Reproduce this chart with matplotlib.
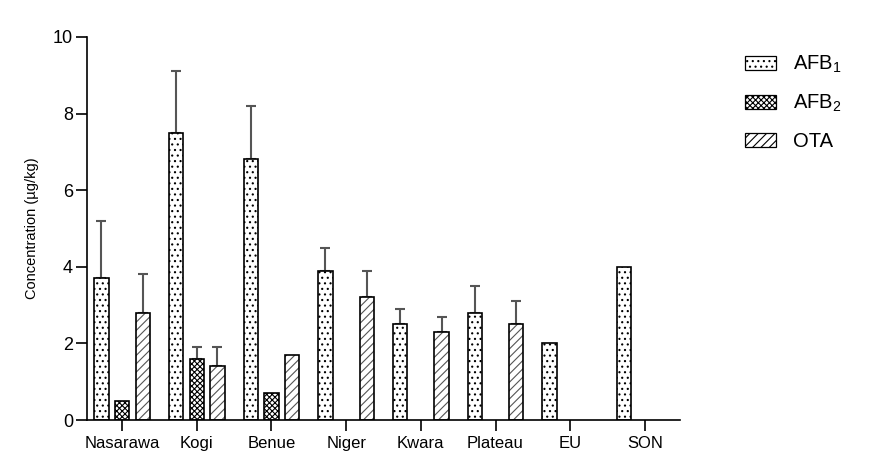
import matplotlib
matplotlib.use("Agg")
import matplotlib.pyplot as plt
from matplotlib.patches import Patch
import numpy as np

plt.rcParams['font.family'] = ['Liberation Sans', 'DejaVu Sans']
plt.rcParams['mathtext.fontset'] = 'custom'
plt.rcParams['mathtext.rm'] = 'Liberation Sans'
plt.rcParams['hatch.linewidth'] = 0.8

categories = ["Nasarawa", "Kogi", "Benue", "Niger", "Kwara", "Plateau", "EU", "SON"]
afb1 = [3.7, 7.5, 6.8, 3.9, 2.5, 2.8, 2.0, 4.0]
afb1_err = [1.5, 1.6, 1.4, 0.6, 0.4, 0.7, 0, 0]
afb2 = [0.5, 1.6, 0.7, 0, 0, 0, 0, 0]
afb2_err = [0, 0.3, 0, 0, 0, 0, 0, 0]
ota = [2.8, 1.4, 1.7, 3.2, 2.3, 2.5, 0, 0]
ota_err = [1.0, 0.5, 0, 0.7, 0.4, 0.6, 0, 0]

fig = plt.figure(figsize=(8.7, 4.73), dpi=100)
ax = fig.add_axes([0.1, 0.112, 0.6816, 0.81])

x = np.arange(len(categories))
w = 0.19
off = 0.277

series = [
    (afb1, afb1_err, -off, '...', 'black', r'AFB$_1$'),
    (afb2, afb2_err, 0, 'xxxxxx', 'black', r'AFB$_2$'),
    (ota, ota_err, off, '////', '#555555', 'OTA'),
]
handles = []
for vals, errs, o, hatch, hc, lab in series:
    xs = x + o
    vals = np.array(vals, float)
    errs = np.array(errs, float)
    mask = vals > 0
    ax.bar(xs[mask], vals[mask], width=w, facecolor='white', edgecolor=hc,
           hatch=hatch, linewidth=0, zorder=2)
    ax.bar(xs[mask], vals[mask], width=w, facecolor='none', edgecolor='black',
           linewidth=1.2, zorder=3)
    em = mask & (errs > 0)
    ax.errorbar(xs[em], vals[em], yerr=[np.zeros(em.sum()), errs[em]], fmt='none',
                ecolor='#555555', elinewidth=1.5, capsize=3.5, capthick=1.5, zorder=1)
    handles.append(Patch(facecolor='white', edgecolor='black', hatch=hatch,
                         linewidth=0.9, label=lab))

ax.set_xlim(-0.47, 7.47)
ax.set_ylim(0, 10)
ax.set_yticks([0, 2, 4, 6, 8, 10])
ax.set_xticks(x)
ax.set_xticklabels(categories)
ax.spines['top'].set_visible(False)
ax.spines['right'].set_visible(False)
for s in ['left', 'bottom']:
    ax.spines[s].set_linewidth(1.2)
ax.tick_params(axis='both', direction='out', length=8, width=1.2, labelsize=12)
ax.tick_params(axis='y', labelsize=13, pad=2)
ax.set_ylabel('Concentration (µg/kg)', fontsize=10.5, labelpad=10)

fig.legend(handles=handles, loc='upper left', bbox_to_anchor=(0.835, 0.925), frameon=False,
           fontsize=14.5, handlelength=1.55, handleheight=0.7, labelspacing=0.9, handletextpad=0.85)

fig.savefig('out.png', dpi=100)
